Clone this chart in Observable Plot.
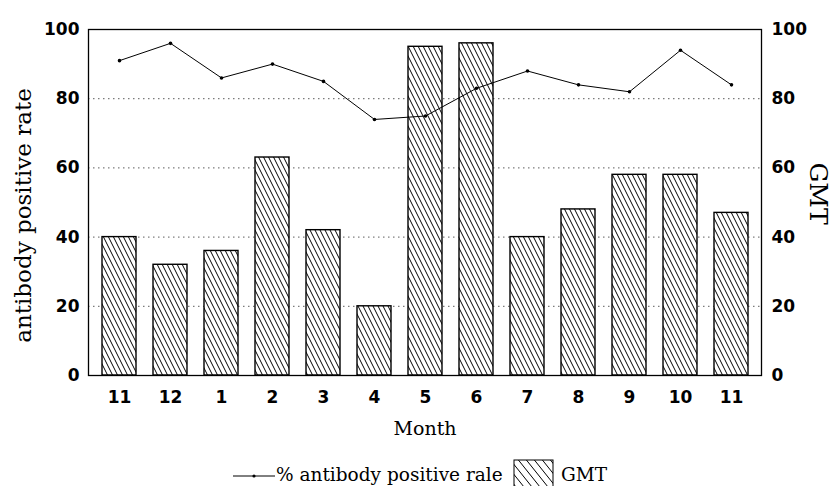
<!DOCTYPE html>
<html>
<head>
<meta charset="utf-8">
<script src="https://cdn.jsdelivr.net/npm/d3@7"></script>
<script src="https://cdn.jsdelivr.net/npm/@observablehq/plot@0.6"></script>
<style>
  html, body { margin: 0; padding: 0; background: white; }
  #wrap { position: relative; width: 836px; height: 486px; overflow: hidden; }
  #legend { position: absolute; left: 0; top: 452px; width: 836px; height: 34px; }
</style>
</head>
<body>
<div id="wrap">
  <div id="chart"></div>
  <div id="legend"></div>
</div>
<script>
const months = ["11", "12", "1", "2", "3", "4", "5", "6", "7", "8", "9", "10", "11"];
const gmt = [40, 32, 36, 63, 42, 20, 95, 96, 40, 48, 58, 58, 47];
const rate = [91, 96, 86, 90, 85, 74, 75, 83, 88, 84, 82, 94, 84];
const yTicks = [0, 20, 40, 60, 80, 100];
const gridTicks = [20, 40, 60, 80];
const leftTitle = "antibody positive rate";
const rightTitle = "GMT";
const xTitle = "Month";
const legendLine = "% antibody positive rale";
const legendBar = "GMT";

const data = months.map((m, i) => ({i, m, gmt: gmt[i], rate: rate[i]}));

const serif = "DejaVu Serif";
const tickFont = {fontSize: 17, fontWeight: "bold", fontFamily: "DejaVu Sans"};

const chart = Plot.plot({
  width: 836,
  height: 452,
  marginLeft: 88,
  marginRight: 75,
  marginTop: 29,
  marginBottom: 77,
  style: {background: "white", color: "black", fontFamily: "DejaVu Sans"},
  x: {type: "band", domain: d3.range(months.length), paddingInner: 0.34, paddingOuter: 0.2},
  y: {domain: [0, 100]},
  marks: [
    Plot.gridY(gridTicks, {stroke: "#333", strokeOpacity: 0.8, strokeDasharray: "1.5,3.5"}),
    Plot.barY(data, {x: "i", y: "gmt", fill: "url(#hatch)", stroke: "black", strokeWidth: 1.4}),
    Plot.frame({stroke: "black", strokeWidth: 1.3}),
    Plot.line(data, {x: "i", y: "rate", stroke: "black", strokeWidth: 1}),
    Plot.dot(data, {x: "i", y: "rate", r: 1.8, fill: "black", stroke: "none"}),
    Plot.axisX({tickSize: 0, tickPadding: 15, tickFormat: i => months[i], label: null, ...tickFont}),
    Plot.axisY({ticks: yTicks, anchor: "left", tickSize: 0, tickPadding: 9, label: null, ...tickFont}),
    Plot.axisY({ticks: yTicks, anchor: "right", tickSize: 0, tickPadding: 10, label: null, ...tickFont}),
    Plot.text([leftTitle], {text: d => d, frameAnchor: "left", textAnchor: "middle", dx: -65, dy: 13, rotate: -90, fontSize: 23, fontFamily: serif}),
    Plot.text([rightTitle], {text: d => d, frameAnchor: "right", textAnchor: "middle", dx: 56, dy: -9, rotate: 90, fontSize: 25, fontFamily: serif}),
    Plot.text([xTitle], {text: d => d, frameAnchor: "bottom", textAnchor: "middle", dy: 59, fontSize: 19, fontFamily: serif})
  ]
});

const defs = d3.select(chart).insert("defs", ":first-child");
const pat = defs.append("pattern")
  .attr("id", "hatch")
  .attr("patternUnits", "userSpaceOnUse")
  .attr("width", 5)
  .attr("height", 10);
pat.append("rect").attr("width", 5).attr("height", 10).attr("fill", "white");
pat.append("path")
  .attr("d", "M-1,-2L6,12M4,-2L11,12M-6,-2L1,12")
  .attr("stroke", "black")
  .attr("stroke-width", 1);

document.getElementById("chart").appendChild(chart);

// legend
const lg = d3.select("#legend").append("svg").attr("width", 836).attr("height", 34);
const lpat = lg.append("defs").append("pattern")
  .attr("id", "hatch2").attr("patternUnits", "userSpaceOnUse").attr("width", 8).attr("height", 10);
lpat.append("rect").attr("width", 8).attr("height", 10).attr("fill", "white");
lpat.append("path").attr("d", "M-2,-2.5L10,12.5M6,-2.5L18,12.5M-10,-2.5L2,12.5").attr("stroke", "black").attr("stroke-width", 1);
lg.append("line").attr("x1", 233).attr("x2", 275).attr("y1", 24).attr("y2", 24).attr("stroke", "black").attr("stroke-width", 1);
lg.append("circle").attr("cx", 254).attr("cy", 24).attr("r", 1.6).attr("fill", "black");
lg.append("text").attr("x", 276).attr("y", 29).attr("font-family", serif).attr("font-size", 18.5).text(legendLine);
lg.append("rect").attr("x", 514).attr("y", 8).attr("width", 39).attr("height", 30).attr("fill", "url(#hatch2)").attr("stroke", "black").attr("stroke-width", 1);
lg.append("text").attr("x", 561).attr("y", 29).attr("font-family", serif).attr("font-size", 18.5).text(legendBar);
</script>
</body>
</html>
